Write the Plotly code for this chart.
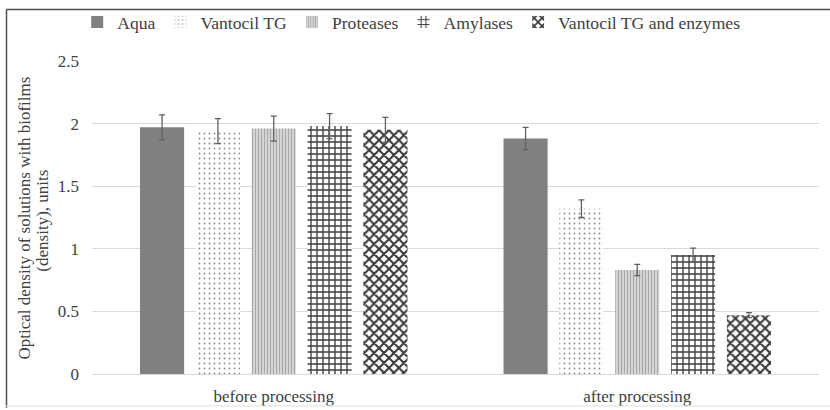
import plotly.graph_objects as go

categories = ["before processing", "after processing"]
series_names = ["Aqua", "Vantocil TG", "Proteases", "Amylases", "Vantocil TG and enzymes"]
aqua = [1.97, 1.88]
vantocil = [1.94, 1.32]
proteases = [1.96, 0.83]
amylases = [1.98, 0.95]
vantocil_enz = [1.95, 0.47]
aqua_err = [0.10, 0.09]
vantocil_err = [0.10, 0.07]
proteases_err = [0.10, 0.045]
amylases_err = [0.10, 0.055]
vantocil_enz_err = [0.10, 0.02]
y_ticks = [0, 0.5, 1, 1.5, 2, 2.5]
y_tick_labels = ["0", "0.5", "1", "1.5", "2", "2.5"]

values = [aqua, vantocil, proteases, amylases, vantocil_enz]
errors = [aqua_err, vantocil_err, proteases_err, amylases_err, vantocil_enz_err]

FONT = "Liberation Serif, Times New Roman, serif"
TXT = "#404040"

styles = [
    dict(color="#808080", pattern=dict(shape="")),
    dict(color="#ffffff", pattern=dict(shape=".", fgcolor="#8a8a8a", bgcolor="#ffffff",
                                         size=5, solidity=0.1, fillmode="replace")),
    dict(color="#d4d4d4", pattern=dict(shape="|", fgcolor="#a8a8a8", bgcolor="#dedede",
                                         size=3, solidity=0.45, fillmode="replace")),
    dict(color="#ffffff", pattern=dict(shape="+", fgcolor="#404040", bgcolor="#ffffff",
                                         size=6, solidity=0.4, fillmode="replace")),
    dict(color="#ffffff", pattern=dict(shape="x", fgcolor="#3a3a3a", bgcolor="#ffffff",
                                         size=7, solidity=0.5, fillmode="replace")),
]

fig = go.Figure()
for name, vals, errs, st in zip(series_names, values, errors, styles):
    fig.add_trace(go.Bar(
        name=name, x=categories, y=vals,
        marker=dict(color=st["color"], pattern=st["pattern"], line=dict(width=0)),
        error_y=dict(type="data", array=errs, visible=True, color="#606060",
                     thickness=1.3, width=3),
    ))

fig.update_layout(
    width=830, height=410,
    margin=dict(l=92, r=11, t=61, b=36, autoexpand=False),
    paper_bgcolor="white", plot_bgcolor="white",
    barmode="group", bargap=0.232, bargroupgap=0.21,
    font=dict(family=FONT, size=17, color=TXT),
    showlegend=True,
    legend=dict(orientation="h", xref="container", yref="container",
                x=0.093, xanchor="left", y=0.946, yanchor="middle",
                font=dict(family=FONT, size=17.6, color=TXT), bgcolor="rgba(0,0,0,0)",
                itemsizing="constant"),
    xaxis=dict(showgrid=False, showline=True, linecolor="#d9d9d9", linewidth=1,
               ticks="outside", ticklen=7, tickcolor="rgba(0,0,0,0)",
               tickfont=dict(family=FONT, size=17, color=TXT), zeroline=False),
    yaxis=dict(range=[0, 2.5], tickvals=y_ticks, ticktext=y_tick_labels,
               showgrid=True, gridcolor="#d9d9d9", gridwidth=1,
               zeroline=True, zerolinecolor="#d9d9d9", zerolinewidth=1,
               showline=False, ticklabelstandoff=12,
               tickfont=dict(family=FONT, size=17, color=TXT)),
)

fig.add_annotation(text="Optical density of solutions with biofilms", textangle=-90,
                   xref="paper", yref="paper", x=-0.0922, y=0.5, xanchor="center",
                   yanchor="middle", showarrow=False,
                   font=dict(family=FONT, size=17, color=TXT))
fig.add_annotation(text="(density), units", textangle=-90,
                   xref="paper", yref="paper", x=-0.0674, y=0.49, xanchor="center",
                   yanchor="middle", showarrow=False,
                   font=dict(family=FONT, size=17, color=TXT))

# frame
fig.add_shape(type="line", xref="paper", yref="paper", x0=-0.1183, x1=1.02, y0=1.1645, y1=1.1645,
              line=dict(color="#505050", width=1.5))
fig.add_shape(type="line", xref="paper", yref="paper", x0=-0.1176, x1=-0.1176, y0=1.1645, y1=-0.108,
              line=dict(color="#505050", width=1.5))
fig.add_shape(type="line", xref="paper", yref="paper", x0=-0.1183, x1=1.02, y0=-0.102, y1=-0.102,
              line=dict(color="#e0e0e0", width=1))

fig.write_html("out.html")
